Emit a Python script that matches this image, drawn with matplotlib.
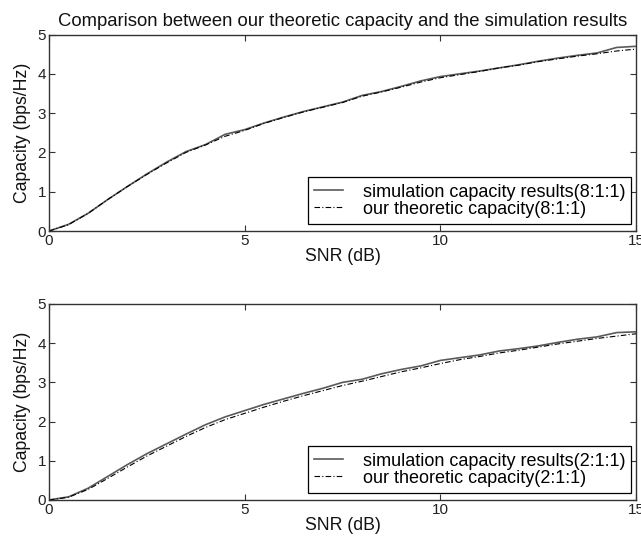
import matplotlib
matplotlib.use("Agg")
import matplotlib.pyplot as plt

plt.rcParams['font.family'] = ['Liberation Sans', 'DejaVu Sans']

# SNR grid (dB)
snr = [0, 0.5, 1, 1.5, 2, 2.5, 3, 3.5, 4, 4.5, 5, 5.5, 6, 6.5, 7, 7.5,
       8, 8.5, 9, 9.5, 10, 10.5, 11, 11.5, 12, 12.5, 13, 13.5, 14, 14.5, 15]

# 8:1:1 case
sim_811 = [0, 0.17, 0.45, 0.80, 1.13, 1.45, 1.75, 2.02, 2.20, 2.46, 2.58,
           2.75, 2.90, 3.04, 3.16, 3.28, 3.45, 3.55, 3.68, 3.82, 3.93,
           4.00, 4.07, 4.15, 4.23, 4.32, 4.40, 4.47, 4.53, 4.67, 4.70]
theo_811 = [0, 0.16, 0.45, 0.80, 1.13, 1.44, 1.73, 2.00, 2.19, 2.41, 2.56,
            2.74, 2.89, 3.03, 3.15, 3.27, 3.43, 3.54, 3.66, 3.79, 3.90,
            3.98, 4.06, 4.15, 4.22, 4.31, 4.38, 4.45, 4.51, 4.58, 4.63]

# 2:1:1 case
sim_211 = [0, 0.08, 0.30, 0.60, 0.90, 1.18, 1.43, 1.68, 1.92, 2.12, 2.28,
           2.44, 2.58, 2.72, 2.85, 3.00, 3.08, 3.22, 3.33, 3.42, 3.56,
           3.63, 3.70, 3.80, 3.86, 3.93, 4.02, 4.10, 4.16, 4.27, 4.29]
theo_211 = [0, 0.07, 0.27, 0.55, 0.84, 1.12, 1.37, 1.62, 1.85, 2.05, 2.21,
            2.37, 2.52, 2.66, 2.79, 2.92, 3.03, 3.15, 3.27, 3.37, 3.48,
            3.58, 3.66, 3.75, 3.82, 3.90, 3.98, 4.05, 4.12, 4.18, 4.24]

panels = [
    (sim_811, theo_811, "8:1:1", [0.0764, 0.5722, 0.916, 0.3639]),
    (sim_211, theo_211, "2:1:1", [0.0764, 0.0741, 0.916, 0.3630]),
]

fig = plt.figure(figsize=(6.41, 5.4), dpi=100)

for i, (sim, theo, ratio, pos) in enumerate(panels):
    ax = fig.add_axes(pos)
    ax.plot(snr, sim, color='#5a5a5a', lw=1.2, solid_joinstyle='round',
            label="simulation capacity results(%s)" % ratio)
    ax.plot(snr, theo, color='black', lw=0.8, dashes=[5, 2, 1, 2],
            label="our theoretic capacity(%s)" % ratio)
    ax.set_xlim(0, 15)
    ax.set_ylim(0, 5)
    ax.set_xticks([0, 5, 10, 15])
    ax.set_yticks([0, 1, 2, 3, 4, 5])
    ax.tick_params(direction='in', top=True, right=True, length=4,
                   labelsize=11, pad=2, color='#333333', labelcolor='#222222')
    for s in ax.spines.values():
        s.set_color('#333333')
        s.set_linewidth(1.0)
    ax.set_xlabel("SNR (dB)", fontsize=12.7, color='#111111', labelpad=0)
    ax.set_ylabel("Capacity (bps/Hz)", fontsize=12.7, color='#111111')
    ax.yaxis.set_label_coords(-0.031, 0.5)
    leg = ax.legend(loc='lower right', bbox_to_anchor=(0.992, 0.035),
                    fontsize=13, fancybox=False, framealpha=1,
                    edgecolor='black', borderpad=0.35, labelspacing=0.0,
                    handlelength=1.6, handletextpad=1.1, borderaxespad=0)
    leg.get_frame().set_linewidth(0.9)
    if i == 0:
        ax.set_title("Comparison between our theoretic capacity and the simulation results",
                     fontsize=13.3, color='#111111', pad=6)

fig.savefig("out.png", dpi=100)
